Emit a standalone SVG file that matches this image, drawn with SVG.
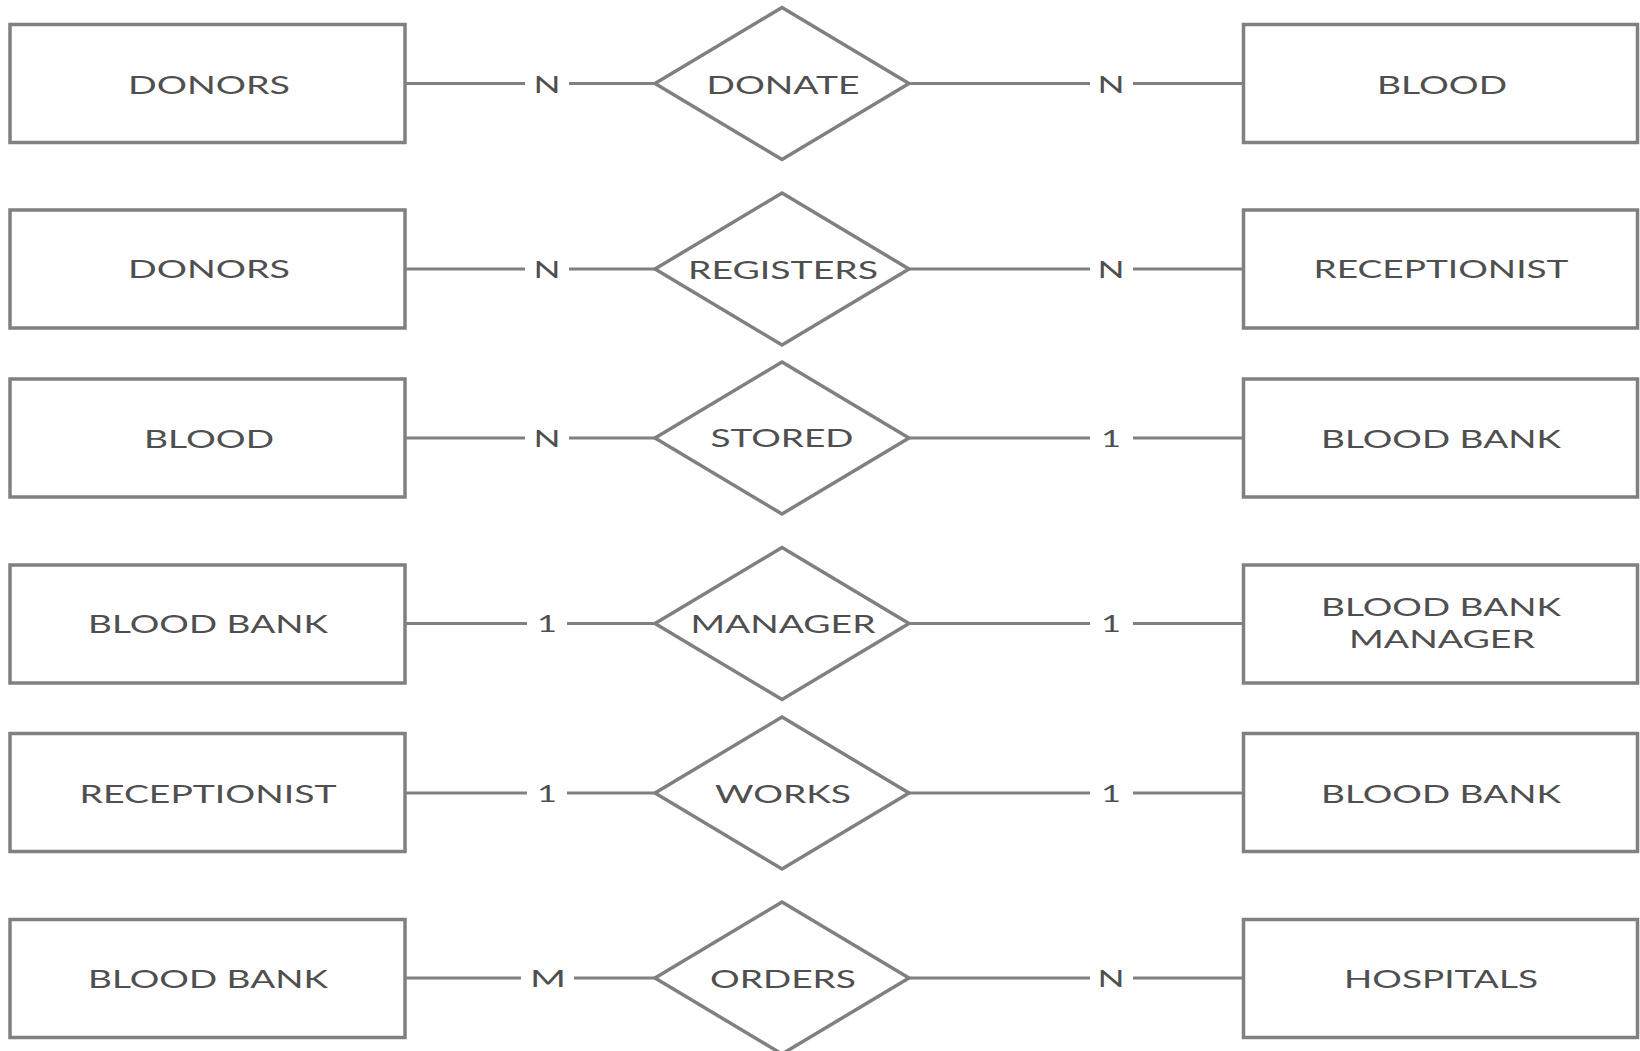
<svg xmlns="http://www.w3.org/2000/svg" width="1640" height="1051" viewBox="0 0 1640 1051">
<style>
.ent{fill:#fff;stroke:#808080;stroke-width:3.5}
.rel{fill:#fff;stroke:#808080;stroke-width:3.5}
.ln{stroke:#808080;stroke-width:3;fill:none}
.t{font-family:Lato,"Liberation Sans",sans-serif;font-size:25.5px;fill:#4f4f4f;text-anchor:middle}
.c{font-family:Lato,"Liberation Sans",sans-serif;font-size:24px;fill:#4f4f4f;text-anchor:middle}
</style>
<rect width="1640" height="1051" fill="#fff"/>
<g id="connectors">
<path class="ln" d="M405 83.5H525M569 83.5H656M909 83.5H1090M1133 83.5H1243"/>
<path class="ln" d="M405 269H525M569 269H656M909 269H1090M1133 269H1243"/>
<path class="ln" d="M405 438H525M569 438H656M909 438H1090M1133 438H1243"/>
<path class="ln" d="M405 623.5H527M567 623.5H656M909 623.5H1090M1133 623.5H1243"/>
<path class="ln" d="M405 793H527M567 793H656M909 793H1090M1133 793H1243"/>
<path class="ln" d="M405 978H521M574 978H656M909 978H1090M1133 978H1243"/>
<text class="c" x="547" y="93" textLength="27" lengthAdjust="spacingAndGlyphs">N</text><text class="c" x="1111" y="93" textLength="27" lengthAdjust="spacingAndGlyphs">N</text>
<text class="c" x="547" y="278" textLength="27" lengthAdjust="spacingAndGlyphs">N</text><text class="c" x="1111" y="278" textLength="27" lengthAdjust="spacingAndGlyphs">N</text>
<text class="c" x="547" y="447" textLength="27" lengthAdjust="spacingAndGlyphs">N</text><text class="c" x="1111" y="447" textLength="20" lengthAdjust="spacingAndGlyphs">1</text>
<text class="c" x="547" y="632" textLength="20" lengthAdjust="spacingAndGlyphs">1</text><text class="c" x="1111" y="632" textLength="20" lengthAdjust="spacingAndGlyphs">1</text>
<text class="c" x="547" y="802" textLength="20" lengthAdjust="spacingAndGlyphs">1</text><text class="c" x="1111" y="802" textLength="20" lengthAdjust="spacingAndGlyphs">1</text>
<text class="c" x="548" y="987" textLength="36" lengthAdjust="spacingAndGlyphs">M</text><text class="c" x="1111" y="987" textLength="27" lengthAdjust="spacingAndGlyphs">N</text>
</g>
<g id="donors1"><rect class="ent" x="10" y="24.5" width="395" height="118"/><text class="t" x="209" y="94" textLength="162" lengthAdjust="spacingAndGlyphs">DONORS</text></g>
<g id="donate"><polygon class="rel" points="782,7.5 909,83.5 782,159.5 655,83.5"/><text class="t" x="783" y="94" textLength="153" lengthAdjust="spacingAndGlyphs">DONATE</text></g>
<g id="blood1"><rect class="ent" x="1243.5" y="24.5" width="394" height="118"/><text class="t" x="1442" y="94" textLength="130" lengthAdjust="spacingAndGlyphs">BLOOD</text></g>

<g id="donors2"><rect class="ent" x="10" y="210" width="395" height="118"/><text class="t" x="209" y="278" textLength="162" lengthAdjust="spacingAndGlyphs">DONORS</text></g>
<g id="registers"><polygon class="rel" points="782,193 909,269 782,345 655,269"/><text class="t" x="783" y="279" textLength="190" lengthAdjust="spacingAndGlyphs">REGISTERS</text></g>
<g id="receptionist1"><rect class="ent" x="1243.5" y="210" width="394" height="118"/><text class="t" x="1441" y="278" textLength="255" lengthAdjust="spacingAndGlyphs">RECEPTIONIST</text></g>

<g id="blood2"><rect class="ent" x="10" y="379" width="395" height="118"/><text class="t" x="209" y="448" textLength="130" lengthAdjust="spacingAndGlyphs">BLOOD</text></g>
<g id="stored"><polygon class="rel" points="782,362 909,438 782,514 655,438"/><text class="t" x="782" y="447" textLength="143" lengthAdjust="spacingAndGlyphs">STORED</text></g>
<g id="bloodbank1"><rect class="ent" x="1243.5" y="379" width="394" height="118"/><text class="t" x="1441" y="448" textLength="240" lengthAdjust="spacingAndGlyphs">BLOOD BANK</text></g>

<g id="bloodbank2"><rect class="ent" x="10" y="565" width="395" height="118"/><text class="t" x="208" y="633" textLength="240" lengthAdjust="spacingAndGlyphs">BLOOD BANK</text></g>
<g id="manager"><polygon class="rel" points="782,547.5 909,623.5 782,699.5 655,623.5"/><text class="t" x="783" y="633" textLength="185" lengthAdjust="spacingAndGlyphs">MANAGER</text></g>
<g id="bbmanager"><rect class="ent" x="1243.5" y="565" width="394" height="118"/><text class="t" x="1441" y="616" textLength="240" lengthAdjust="spacingAndGlyphs">BLOOD BANK</text><text class="t" x="1442" y="648" textLength="186" lengthAdjust="spacingAndGlyphs">MANAGER</text></g>

<g id="receptionist2"><rect class="ent" x="10" y="733.5" width="395" height="118"/><text class="t" x="208" y="803" textLength="257" lengthAdjust="spacingAndGlyphs">RECEPTIONIST</text></g>
<g id="works"><polygon class="rel" points="782,717 909,793 782,869 655,793"/><text class="t" x="783" y="803" textLength="136" lengthAdjust="spacingAndGlyphs">WORKS</text></g>
<g id="bloodbank3"><rect class="ent" x="1243.5" y="733.5" width="394" height="118"/><text class="t" x="1441" y="803" textLength="240" lengthAdjust="spacingAndGlyphs">BLOOD BANK</text></g>

<g id="bloodbank4"><rect class="ent" x="10" y="919.5" width="395" height="118"/><text class="t" x="208" y="988" textLength="240" lengthAdjust="spacingAndGlyphs">BLOOD BANK</text></g>
<g id="orders"><polygon class="rel" points="782,902 909,978 782,1054 655,978"/><text class="t" x="783" y="988" textLength="146" lengthAdjust="spacingAndGlyphs">ORDERS</text></g>
<g id="hospitals"><rect class="ent" x="1243.5" y="919.5" width="394" height="118"/><text class="t" x="1441" y="988" textLength="194" lengthAdjust="spacingAndGlyphs">HOSPITALS</text></g>
</svg>
